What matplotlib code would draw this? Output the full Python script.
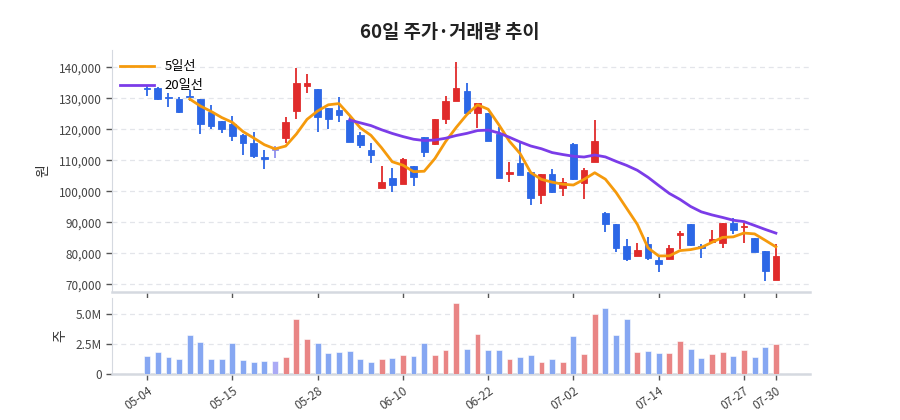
import matplotlib
matplotlib.use("Agg")
import matplotlib.pyplot as plt
import numpy as np
import pandas as pd

plt.rcParams['font.family'] = ['Noto Sans CJK KR', 'DejaVu Sans']

# trading days (2026)
dates = ["05-04", "05-06", "05-07", "05-08", "05-11", "05-12", "05-13", "05-14", "05-15", "05-18",
         "05-19", "05-20", "05-21", "05-22", "05-26", "05-27", "05-28", "05-29", "06-01", "06-02",
         "06-04", "06-05", "06-08", "06-09", "06-10", "06-11", "06-12", "06-15", "06-16", "06-17",
         "06-18", "06-19", "06-22", "06-23", "06-24", "06-25", "06-26", "06-29", "06-30", "07-01",
         "07-02", "07-03", "07-06", "07-07", "07-08", "07-09", "07-10", "07-13", "07-14", "07-15",
         "07-16", "07-20", "07-21", "07-22", "07-23", "07-24", "07-27", "07-28", "07-29", "07-30"]
tick_labels = ["05-04", "05-15", "05-28", "06-10", "06-22", "07-02", "07-14", "07-27", "07-30"]

opens = [133400, 133400, 130200, 129800, 130700, 129700, 125700, 122700, 121700, 118200,
         115700, 111200, 113900, 117100, 126000, 134000, 133100, 126800, 126200, 123000,
         118200, 113300, 101200, 104200, 102400, 108300, 117400, 115300, 123500, 129100,
         132400, 125400, 125200, 118500, 105600, 109300, 106400, 98800, 105500, 101000,
         115300, 102800, 109600, 92900, 89400, 82500, 79200, 83000, 78000, 78200,
         85800, 89500, 82500, 83800, 83400, 89900, 88400, 85100, 80900, 71400]
closes = [133000, 129800, 130000, 125700, 130400, 121700, 121200, 120100, 117900, 115500,
          111400, 110400, 113300, 122500, 134800, 135100, 124000, 123200, 124500, 115800,
          115000, 111900, 103100, 102000, 110300, 104500, 112600, 123500, 129300, 133200,
          125200, 128400, 116400, 104400, 106400, 105300, 97800, 105500, 99900, 103100,
          104000, 106900, 116200, 89500, 81800, 78200, 81100, 78400, 76500, 81900,
          86700, 82700, 81900, 84700, 89900, 87500, 88900, 80500, 74400, 79300]
highs = [134300, 133800, 131600, 130300, 132700, 129700, 127900, 122700, 124300, 118400,
         119100, 113300, 114600, 124100, 139700, 137900, 133100, 126800, 130500, 124100,
         119300, 115500, 108200, 107400, 110700, 108300, 117400, 123500, 130800, 141800,
         134800, 128400, 125200, 120900, 109600, 116000, 106400, 105500, 107100, 104200,
         115700, 107400, 123000, 93400, 89400, 84500, 83500, 85200, 78700, 82700,
         87200, 89500, 83000, 87500, 89900, 91300, 89900, 85100, 80900, 83200]
lows = [130800, 129500, 127100, 125200, 129200, 118400, 120100, 118700, 116400, 111700,
        110900, 107100, 110900, 115700, 123300, 131600, 119300, 120100, 122500, 115800,
        114100, 109300, 101200, 99900, 102400, 101700, 111200, 115000, 121700, 129100,
        125200, 120300, 116400, 104400, 103100, 105300, 95600, 95900, 99400, 98500,
        103700, 97700, 109600, 87000, 80500, 77600, 79200, 77900, 73900, 78200,
        81300, 82400, 78600, 83800, 81800, 86400, 83400, 80500, 71200, 71400]
volumes = [1.50, 1.83, 1.44, 1.25, 3.25, 2.69, 1.28, 1.25, 2.58, 1.17,
           1.00, 1.11, 1.08, 1.44, 4.61, 2.92, 2.58, 1.78, 1.86, 1.92,
           1.25, 0.97, 1.25, 1.33, 1.61, 1.50, 2.61, 1.61, 2.03, 5.94,
           2.08, 3.33, 2.03, 2.00, 1.28, 1.44, 1.61, 1.03, 1.25, 1.03,
           3.17, 1.67, 5.00, 5.50, 3.25, 4.56, 1.83, 1.92, 1.72, 1.72,
           2.75, 2.11, 1.33, 1.64, 1.86, 1.53, 2.03, 1.44, 2.28, 2.53]

df = pd.DataFrame({"date": dates, "open": opens, "close": closes,
                   "high": highs, "low": lows, "vol": np.array(volumes) * 1e6})
df["ma5"] = df["close"].rolling(5).mean()
df["ma20"] = df["close"].rolling(20).mean()
x = np.arange(len(df))

RED = "#e02b2b"
BLUE = "#2c67e6"
FLAT = "#8f8ff0"
col = []
vcol = []
for i, (o, c) in enumerate(zip(df["open"], df["close"])):
    if i == 12:
        # 보합 처리된 날
        col.append(FLAT)
        vcol.append("#aaaaf5")
    elif c > o:
        col.append(RED)
        vcol.append("#e98585")
    else:
        col.append(BLUE)
        vcol.append("#86a7f2")

fig = plt.figure(figsize=(9, 4.2), dpi=100)
ax = fig.add_axes([0.1244, 0.305, 0.7756, 0.576])
axv = fig.add_axes([0.1244, 0.1095, 0.7756, 0.181], sharex=ax)

# candles
ax.vlines(x, df["low"], df["high"], colors=col, linewidth=1.3, zorder=2)
body_bot = np.minimum(df["open"], df["close"])
body_h = np.maximum(np.abs(df["close"] - df["open"]), 350)
ax.bar(x, body_h, bottom=body_bot, width=0.62, color=col, edgecolor=col,
       linewidth=0.6, zorder=3)

ax.plot(x, df["ma5"], color="#f59a0c", linewidth=2, label="5일선", zorder=4)
ax.plot(x, df["ma20"], color="#7b3ce8", linewidth=2, label="20일선", zorder=4)

ax.set_ylim(67600, 145600)
ax.set_xlim(-3.3, 62.2)
ax.set_yticks([70000, 80000, 90000, 100000, 110000, 120000, 130000, 140000])
ax.yaxis.set_major_formatter(matplotlib.ticker.FuncFormatter(lambda v, p: f"{int(v):,}"))
ax.set_ylabel("원", fontsize=10, color="#333333", labelpad=6)
ax.grid(axis="y", color="#e3e5ea", linestyle=(0, (4, 3)), linewidth=0.9)
ax.set_axisbelow(True)
leg = ax.legend(loc="upper left", frameon=False, fontsize=9.5, handlelength=2.6,
                borderaxespad=0.2, labelspacing=0.45, bbox_to_anchor=(0.0, 0.99))

# volume
axv.bar(x, df["vol"], width=0.55, color=vcol, edgecolor="#ffffff", linewidth=0.4, zorder=3)
axv.set_ylim(0, 6.33e6)
axv.set_yticks([0, 2.5e6, 5e6])
axv.set_yticklabels(["0", "2.5M", "5.0M"])
axv.set_ylabel("주", fontsize=10, color="#333333", labelpad=6)
axv.grid(axis="y", color="#e3e5ea", linestyle=(0, (4, 3)), linewidth=0.9)
axv.set_axisbelow(True)

tick_pos = [dates.index(t) for t in tick_labels]
axv.set_xticks(tick_pos)
axv.set_xticklabels(tick_labels, rotation=35, ha="right", rotation_mode="anchor")

for a in (ax, axv):
    for s in ("top", "right"):
        a.spines[s].set_visible(False)
    a.spines["left"].set_color("#d5d9e0")
    a.spines["bottom"].set_color("#d5d9e0")
    a.spines["bottom"].set_linewidth(1.8)
    a.tick_params(axis="both", colors="#555555", labelsize=8.5, length=4, width=1)
    a.tick_params(axis="both", labelcolor="#444444")
plt.setp(ax.get_xticklabels(), visible=False)

fig.suptitle("60일 주가·거래량 추이", fontsize=13.5, fontweight="bold", x=0.5, y=0.945, color="#222222")

fig.savefig("out.png", dpi=100)
